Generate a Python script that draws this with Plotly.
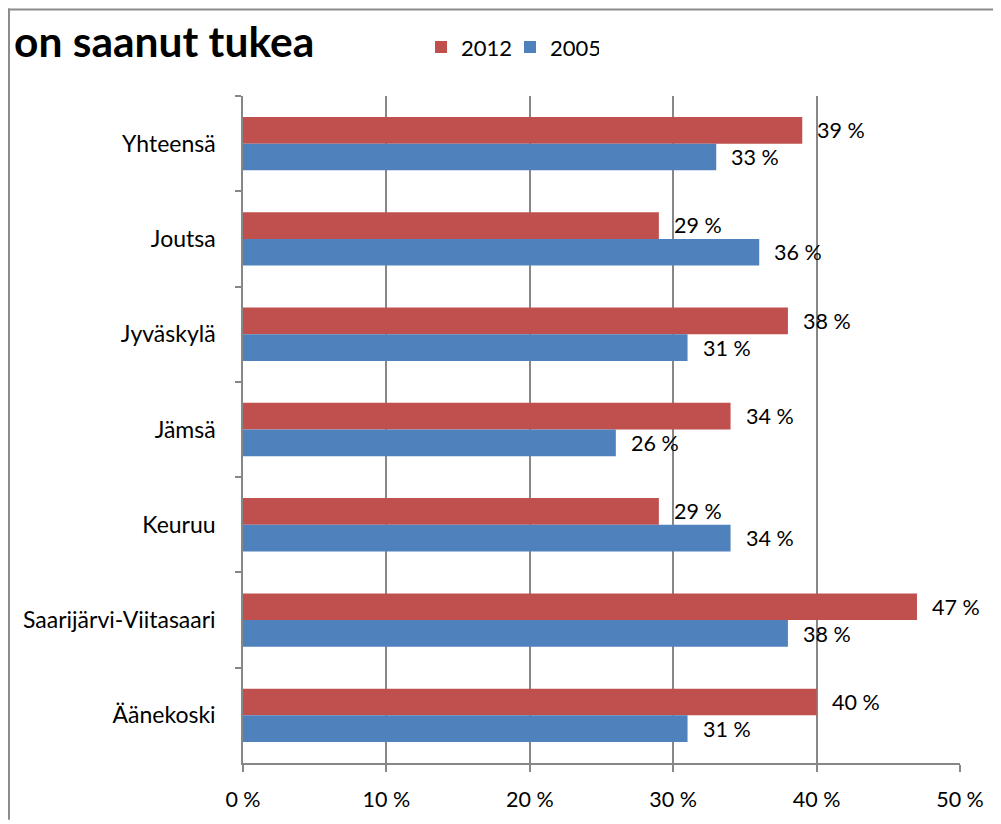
import plotly.graph_objects as go

categories = ["Yhteensä", "Joutsa", "Jyväskylä", "Jämsä", "Keuruu",
              "Saarijärvi-Viitasaari", "Äänekoski"]
values_2012 = [39, 29, 38, 34, 29, 47, 40]
values_2005 = [33, 36, 31, 26, 34, 38, 31]
x_ticks = [0, 10, 20, 30, 40, 50]
x_tick_labels = ["0 %", "10 %", "20 %", "30 %", "40 %", "50 %"]
title_text = "on saanut tukea"

FONT = "Lato"
RED = "#C0504D"
BLUE = "#4F81BD"
GRID = "#878787"

# page has an 8px body margin; figure sized to fill the rest of the window
OFF = 8
W, H = 1001 - OFF, 824 - OFF
L, R, T, B = 243 - OFF, 41, 96 - OFF, 57
pw, ph = W - L - R, H - T - B


def px(xpage):
    return (xpage - OFF - L) / pw


def py(ypage):
    return (H - B - (ypage - OFF)) / ph


fig = go.Figure()
fig.add_trace(go.Bar(name="2012", y=categories, x=values_2012, orientation="h",
                     marker=dict(color=RED, line=dict(width=0))))
fig.add_trace(go.Bar(name="2005", y=categories, x=values_2005, orientation="h",
                     marker=dict(color=BLUE, line=dict(width=0))))

annotations = []
for vals, shift in ((values_2012, 13.5), (values_2005, -13.5)):
    for c, v in zip(categories, vals):
        annotations.append(dict(x=v, y=c, xref="x", yref="y", text=f"{v} %",
                                showarrow=False, xanchor="left", yanchor="middle",
                                xshift=13, yshift=shift,
                                font=dict(family=FONT, size=21.5, color="#000000")))

annotations.append(dict(x=px(12), y=py(40), xref="paper", yref="paper",
                        text=f"<b>{title_text}</b>",
                        showarrow=False, xanchor="left", yanchor="middle",
                        font=dict(family=FONT, size=42.5, color="#000000")))

fig.update_layout(
    width=W, height=H,
    margin=dict(l=L, r=R, t=T, b=B, pad=0),
    paper_bgcolor="white", plot_bgcolor="white",
    barmode="group", bargap=0.44, bargroupgap=0,
    font=dict(family=FONT, size=21.5, color="#000000"),
    showlegend=True,
    legend=dict(orientation="h", x=px(421), y=py(47), xanchor="left", yanchor="middle",
                font=dict(family=FONT, size=22, color="#000000"), traceorder="normal",
                itemwidth=30, entrywidth=44, bgcolor="rgba(0,0,0,0)"),
    xaxis=dict(range=[0, 50], tickvals=x_ticks, ticktext=x_tick_labels,
               showgrid=True, gridcolor=GRID, gridwidth=1.5,
               showline=True, linecolor=GRID, linewidth=1.5,
               ticks="outside", ticklen=7, tickcolor=GRID, tickwidth=1.5,
               zeroline=False, ticklabelstandoff=9,
               tickfont=dict(family=FONT, size=21.5)),
    yaxis=dict(autorange="reversed", type="category",
               showline=True, linecolor=GRID, linewidth=1.5,
               ticks="outside", ticklen=6, tickcolor=GRID, tickwidth=1.5,
               tickson="boundaries", showgrid=False, ticklabelstandoff=21,
               tickfont=dict(family=FONT, size=23)),
    annotations=annotations,
    shapes=[
        dict(type="line", xref="paper", yref="paper", x0=px(8), x1=px(1001),
             y0=py(9), y1=py(9), line=dict(color="#8C8C8C", width=2)),
        dict(type="line", xref="paper", yref="paper", x0=px(9), x1=px(9),
             y0=py(8), y1=py(824), line=dict(color="#8C8C8C", width=2)),
    ],
)

fig.write_html("out.html")
